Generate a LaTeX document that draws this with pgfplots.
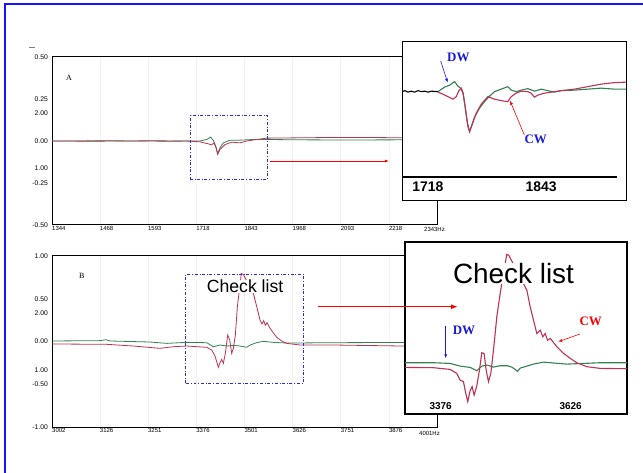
\documentclass[border=0pt]{standalone}
\usepackage{pgfplots}
\pgfplotsset{compat=1.18}
\usepackage{fontspec}
\setmainfont{Liberation Serif}
\newfontfamily\arial{Liberation Sans}
\usetikzlibrary{arrows.meta}
\definecolor{cwred}{RGB}{190,50,85}
\definecolor{dwgreen}{RGB}{50,130,80}
\definecolor{boxblue}{RGB}{40,40,230}
\definecolor{frameblue}{RGB}{20,20,255}
\definecolor{lblblue}{RGB}{25,25,220}
\newcommand\fs[1]{\fontsize{#1}{#1}\selectfont}

\pgfplotsset{
  mainpanel/.style={
    scale only axis, width=385bp, anchor=south west,
    axis line style={line width=1bp},
    major tick length=0pt,
    xticklabel style={font=\arial\fs{6}, anchor=north west, inner sep=1bp, xshift=-1bp},
    yticklabel style={font=\arial\fs{6.8}, anchor=east, inner sep=0pt, xshift=-4bp},
    xmajorgrids, grid style={gray!10},
    extra y tick style={grid=none, major tick length=0pt},
  },
  inset/.style={scale only axis, anchor=south west, hide axis},
  trace/.style={line width=0.8bp},
  itrace/.style={line width=1.1bp},
}

\begin{document}
\begin{tikzpicture}[x=1bp,y=1bp]
\useasboundingbox (0bp,0bp) rectangle (643bp,473bp);
% outer blue frame
\draw[frameblue, line width=2bp] (5bp,0bp) -- (5bp,469bp) -- (643bp,469bp);
\draw[gray, line width=0.6bp] (29bp,426bp) -- (35bp,426bp);

% ---------------- panel A ----------------
\begin{axis}[mainpanel, height=168bp, at={(52bp,248bp)},
  xmin=1344, xmax=2343, ymin=-0.5, ymax=0.5,
  xtick={1344,1468,1593,1718,1843,1968,2093,2218},
  xticklabels={1344,1468,1593,1718,1843,1968,2093,2218},
  ytick={-0.5,-0.25,0,0.25,0.5},
  yticklabels={-0.50,-0.25,0.00,0.25,0.50},
  extra y ticks={0.163,-0.163}, extra y tick labels={2.00,1.00}]
\addplot[trace, dwgreen] coordinates {
(1344,0) (1500,0.001) (1650,-0.001) (1728.1,0) (1745.4,0.009) (1755.8,0.023)
(1762.7,0.003) (1769.6,-0.035) (1773.9,-0.074) (1780.0,-0.040) (1788.6,-0.011)
(1806.0,0.005) (1831.9,0.005) (1866.5,0.009) (1901.1,0.009) (1987.6,0.007)
(2100,0.006) (2256,0.007) (2343,0.007)};
\addplot[trace, cwred] coordinates {
(1344,0) (1450,-0.001) (1600,0.001) (1693.5,0) (1728.1,-0.005) (1749.7,-0.017)
(1758.4,-0.023) (1764.4,-0.011) (1769.6,-0.041) (1773.9,-0.080) (1780.0,-0.050)
(1793.0,-0.021) (1810.3,-0.007) (1831.9,-0.011) (1849.2,0) (1875.2,0.009)
(1901.1,0.017) (1987.6,0.019) (2074.1,0.021) (2160.6,0.021) (2255.7,0.019) (2343,0.019)};
\draw[boxblue, dash dot, line width=0.8bp] (axis cs:1704,-0.23) rectangle (axis cs:1903,0.153);
\node[font=\arial\fs{7.4}, anchor=south west, inner sep=0pt] at (rel axis cs:0,1) [yshift=1.5bp] {Difference of Frequency Response(Volts)};
\end{axis}
\node[font=\arial\fs{6}, anchor=east, inner sep=0pt] at (445bp,244bp) {2343Hz};
\node[font=\fs{8}] at (69bp,394.7bp) {A};

% ---------------- panel B ----------------
\begin{axis}[mainpanel, height=171bp, at={(52bp,46bp)},
  xmin=3002, xmax=4001, ymin=-1, ymax=1,
  xtick={3002,3126,3251,3376,3501,3626,3751,3876},
  xticklabels={3002,3126,3251,3376,3501,3626,3751,3876},
  ytick={-1,-0.5,0,0.5,1},
  yticklabels={-1.00,-0.50,0.00,0.50,1.00},
  extra y ticks={0.333,-0.333}, extra y tick labels={2.00,1.00}]
\addplot[trace, dwgreen] coordinates {
(3002,0.006) (3126.6,0.010) (3142.2,0.021) (3152.5,0.006) (3256.3,-0.006)
(3299.6,-0.022) (3351.5,-0.010) (3403.4,-0.014) (3420.7,-0.061) (3438.0,-0.041)
(3455.3,-0.053) (3472.6,-0.045) (3489.9,-0.053) (3507.2,-0.068) (3515.9,-0.041)
(3533.2,-0.014) (3550.5,0.002) (3576.4,-0.010) (3611.0,-0.018) (3732.1,-0.014)
(4001,-0.010)};
\addplot[trace, cwred] coordinates {
(3002,-0.029) (3143.9,-0.033) (3213.1,-0.053) (3282.3,-0.080) (3316.9,-0.061)
(3351.5,-0.053) (3403.4,-0.068) (3416.4,-0.100) (3425.0,-0.170) (3433.7,-0.302)
(3438.0,-0.248) (3442.3,-0.209) (3446.7,-0.255) (3451.8,-0.139) (3457.9,0.076)
(3463.1,0.017) (3468.3,-0.139) (3472.6,-0.080) (3477.8,0.076) (3483.0,0.407)
(3488.2,0.602) (3493.4,0.797) (3498.6,0.782) (3524.5,0.563) (3533.2,0.407)
(3541.8,0.251) (3547.0,0.205) (3551.3,0.244) (3555.6,0.189) (3560.0,0.220)
(3566.0,0.166) (3574.7,0.111) (3585.1,0.049) (3598.0,0.006) (3611.0,-0.022)
(3645.6,-0.041) (3732.1,-0.041) (3913.8,-0.053) (4001,-0.061)};
\draw[boxblue, dash dot, line width=0.8bp] (axis cs:3349,-0.489) rectangle (axis cs:3654,0.786);
\node[font=\arial\fs{17.7}, anchor=base, inner sep=0pt, fill=white] at (axis cs:3503,0.571) {Check list};
\node[font=\arial\fs{7.4}, anchor=south west, inner sep=0pt] at (rel axis cs:0,1) [yshift=1.5bp] {Difference of Frequency Response(Volts)};
\end{axis}
\node[font=\arial\fs{6}, anchor=east, inner sep=0pt] at (440bp,40bp) {4001Hz};
\node[font=\fs{8}] at (81.7bp,197bp) {B};

% ---------------- inset A ----------------
\fill[white] (402bp,273bp) rectangle (626bp,432bp);
\draw[line width=0.9bp] (402bp,273bp) rectangle (626bp,432bp);
\begin{axis}[inset, width=224bp, height=159bp, at={(402bp,273bp)},
  xmin=1689.3, xmax=1936.7, ymin=-0.2167, ymax=0.1013]
\addplot[itrace, dwgreen] coordinates {
(1729.0,0) (1736.3,0.009) (1741.9,0.013) (1747.4,0.020) (1751.0,0.011)
(1754.0,0.007) (1756.6,-0.003) (1759.1,-0.030) (1761.3,-0.060) (1763.9,-0.080)
(1765.7,-0.071) (1769.4,-0.051) (1774.9,-0.033) (1780.5,-0.020) (1786.0,-0.009)
(1791.5,0) (1798.8,0.005) (1806.2,0.010) (1809.9,0.003) (1815.4,0) (1820.9,0.003)
(1828.2,0.006) (1835.6,0.001) (1843.0,0.005) (1850.3,0.002) (1857.6,-0.001)
(1865.0,0.002) (1879.7,0.003) (1894.4,0.005) (1909.1,0.007) (1923.8,0.005) (1936.7,0.005)};
\addplot[itrace, cwred] coordinates {
(1729.0,-0.001) (1734.5,-0.005) (1740.0,-0.010) (1745.5,-0.015) (1749.2,-0.010)
(1752.1,0.002) (1754.7,0.007) (1756.9,-0.003) (1759.5,-0.037) (1762.1,-0.070)
(1763.9,-0.080) (1766.5,-0.067) (1771.3,-0.043) (1776.8,-0.025) (1784.1,-0.010)
(1791.5,-0.015) (1798.8,-0.018) (1806.2,-0.020) (1809.9,-0.010) (1815.4,-0.003)
(1820.9,0.001) (1828.2,0) (1831.9,-0.003) (1835.6,-0.011) (1839.3,-0.007)
(1846.6,-0.003) (1854.0,-0.001) (1865.0,0.002) (1879.7,0.005) (1894.4,0.010)
(1909.1,0.015) (1923.8,0.018) (1936.7,0.019)};
\addplot[itrace, black] coordinates {
(1689.3,0) (1692.5,0.002) (1695.9,-0.001) (1699.5,0.001) (1703.3,-0.001)
(1707.0,0.002) (1710.6,0) (1714.3,0.001) (1718.0,-0.001) (1722.0,0.001) (1729.0,0)};
\draw[line width=1.5bp] (axis cs:1689.3,-0.1707) -- (axis cs:1926.8,-0.1707);
\node[font=\arial\bfseries\fs{14}] at (axis cs:1718,-0.19) {1718};
\node[font=\arial\bfseries\fs{14}] at (axis cs:1843,-0.19) {1843};
\end{axis}
\node[font=\bfseries\fs{13}, text=lblblue] at (458.3bp,415.3bp) {DW};
\draw[lblblue, line width=0.6bp, -{Latex[length=4bp,width=3bp]}] (440.7bp,412bp) -- (447.7bp,390.3bp);
\node[font=\bfseries\fs{13}, text=lblblue] at (535.7bp,333.7bp) {CW};
\draw[red, line width=0.6bp, -{Latex[length=4bp,width=3bp]}] (524.3bp,338bp) -- (510bp,372.3bp);

% ---------------- inset B ----------------
\fill[white] (405bp,59bp) rectangle (627bp,231bp);
\draw[line width=1.2bp] (405bp,59bp) rectangle (627bp,231bp);
\begin{axis}[inset, width=222bp, height=172bp, at={(405bp,59bp)},
  xmin=3307.4, xmax=3733.7, ymin=-0.507, ymax=1.217]
\addplot[itrace, dwgreen] coordinates {
(3307.4,0.007) (3361.9,0.007) (3394.0,0) (3413.2,-0.027) (3432.4,-0.040)
(3445.2,-0.073) (3454.8,-0.027) (3465.7,-0.017) (3477.3,-0.037) (3490.1,-0.023)
(3504.2,-0.023) (3512.5,-0.037) (3519.0,-0.060) (3523.4,-0.080) (3528.6,-0.047)
(3541.4,-0.027) (3554.2,-0.007) (3573.4,0.013) (3586.3,0.007) (3618.3,-0.007)
(3650.4,0) (3682.4,0.007) (3733.7,0.007)};
\addplot[itrace, cwred] coordinates {
(3307.4,-0.040) (3361.9,-0.043) (3394.0,-0.060) (3406.8,-0.100) (3413.2,-0.167)
(3419.6,-0.183) (3424.1,-0.300) (3427.9,-0.383) (3432.4,-0.273) (3436.3,-0.233)
(3440.1,-0.317) (3445.2,-0.227) (3450.4,-0.067) (3454.8,0.107) (3459.3,0.100)
(3463.2,-0.067) (3467.7,-0.183) (3472.2,-0.100) (3477.3,0.133) (3483.7,0.467)
(3490.1,0.700) (3496.5,0.900) (3502.9,1.093) (3506.8,1.083) (3541.4,0.733)
(3547.8,0.567) (3554.2,0.433) (3560.6,0.300) (3567.0,0.333) (3572.1,0.267)
(3576.6,0.300) (3581.1,0.233) (3586.3,0.250) (3591.4,0.217) (3599.1,0.167)
(3611.9,0.100) (3624.7,0.050) (3637.5,0.007) (3656.7,-0.033) (3682.4,-0.050)
(3733.7,-0.053)};
\node[font=\arial\fs{28}, anchor=base, inner sep=0pt, fill=white] at (axis cs:3515.7,0.8) {Check list};
\end{axis}
\node[font=\arial\bfseries\fs{10}] at (440.7bp,67.3bp) {3376};
\node[font=\arial\bfseries\fs{10}] at (570.7bp,67.3bp) {3626};
\node[font=\bfseries\fs{13}, text=lblblue] at (464bp,142.3bp) {DW};
\draw[lblblue, line width=0.6bp, -{Latex[length=4bp,width=3bp]}] (445.7bp,147bp) -- (445.7bp,114.7bp);
\node[font=\bfseries\fs{13}, text=red] at (590.7bp,152bp) {CW};
\draw[red, line width=0.6bp, -{Latex[length=4bp,width=3bp]}] (580bp,139bp) -- (558.3bp,131.3bp);

% connecting arrows
\draw[red, line width=0.8bp, -{Latex[length=4bp,width=3bp]}] (270bp,312bp) -- (389bp,312bp);
\draw[red, line width=1.5bp, -{Latex[length=7bp,width=5bp]}] (318bp,166.3bp) -- (458bp,166.3bp);
\end{tikzpicture}
\end{document}
